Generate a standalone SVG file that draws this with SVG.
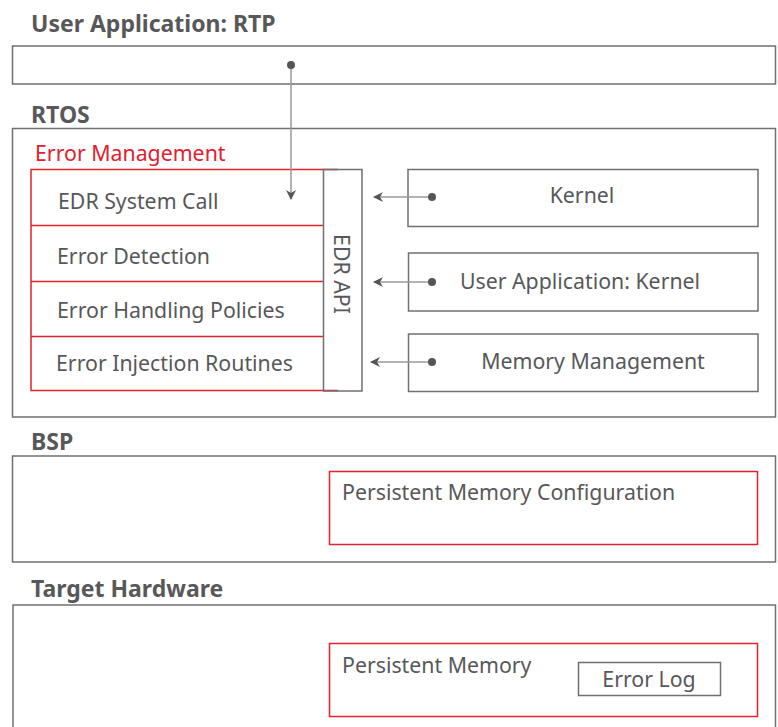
<svg xmlns="http://www.w3.org/2000/svg" width="778" height="727" viewBox="0 0 778 727">
<defs>
<style>
.t{font-family:"Noto Sans","Liberation Sans",sans-serif;fill:#58585a;font-size:21.3px}
.h{font-family:"Noto Sans","Liberation Sans",sans-serif;fill:#58585a;font-size:23px;font-weight:bold}
.box{fill:none;stroke:#707070;stroke-width:1.5}
.red{fill:none;stroke:#e3202e;stroke-width:1.5}
.conn{stroke:#9a9a9a;stroke-width:1.5;fill:none}
.dot{fill:#555}
</style>
<marker id="ah" viewBox="0 0 10 10" refX="9" refY="5" markerWidth="10" markerHeight="10" markerUnits="userSpaceOnUse" orient="auto">
<path d="M0,0 L10,5 L0,10 L3,5 Z" fill="#555"/>
</marker>
</defs>
<rect width="778" height="727" fill="#fff"/>

<g id="rtp">
<text class="h" x="31" y="32">User Application: RTP</text>
<rect class="box" x="12.5" y="46" width="763" height="38"/>
</g>

<g id="rtos">
<text class="h" x="31" y="123">RTOS</text>
<rect class="box" x="12.5" y="128.5" width="763" height="288.5"/>
</g>

<g id="error-management">
<text class="t" x="35" y="161" style="fill:#e3202e">Error Management</text>
<path class="red" d="M338,169.5 H31 V390.5 H338"/>
<line class="red" x1="31" y1="225.5" x2="323" y2="225.5"/>
<line class="red" x1="31" y1="281.5" x2="323" y2="281.5"/>
<line class="red" x1="31" y1="336.5" x2="323" y2="336.5"/>
</g>
<g id="edr-system-call"><text class="t" x="58" y="209">EDR System Call</text></g>
<g id="error-detection"><text class="t" x="57" y="264">Error Detection</text></g>
<g id="error-handling"><text class="t" x="57" y="318">Error Handling Policies</text></g>
<g id="error-injection"><text class="t" x="56" y="371">Error Injection Routines</text></g>

<g id="edr-api">
<rect class="box" x="323.5" y="169.5" width="38.5" height="221.5"/>
<text class="t" x="0" y="0" text-anchor="middle" transform="translate(334 274) rotate(90)">EDR API</text>
</g>

<g id="kernel">
<rect class="box" x="408" y="169.5" width="350" height="57"/>
<text class="t" x="582" y="203" text-anchor="middle">Kernel</text>
</g>
<g id="user-app-kernel">
<rect class="box" x="408.5" y="253" width="349.5" height="58"/>
<text class="t" x="580" y="289" text-anchor="middle">User Application: Kernel</text>
</g>
<g id="memory-management">
<rect class="box" x="408.5" y="334" width="349.5" height="57.5"/>
<text class="t" x="593" y="369" text-anchor="middle">Memory Management</text>
</g>

<g id="bsp">
<text class="h" x="31" y="450">BSP</text>
<rect class="box" x="12.5" y="456" width="763" height="106"/>
</g>
<g id="pm-config">
<rect class="red" x="329.5" y="471.5" width="428" height="73"/>
<text class="t" x="342" y="500">Persistent Memory Configuration</text>
</g>

<g id="target-hardware">
<text class="h" x="31" y="597">Target Hardware</text>
<rect class="box" x="13" y="605" width="762.5" height="140"/>
</g>
<g id="persistent-memory">
<rect class="red" x="329.5" y="643.5" width="428" height="73"/>
<text class="t" x="342" y="673">Persistent Memory</text>
</g>
<g id="error-log">
<rect class="box" x="578.5" y="662.5" width="142" height="33"/>
<text class="t" x="649" y="687" text-anchor="middle">Error Log</text>
</g>

<g id="connectors">
<line class="conn" x1="291" y1="65" x2="291" y2="199" marker-end="url(#ah)"/>
<circle class="dot" cx="291" cy="65" r="4"/>
<line class="conn" x1="432" y1="197" x2="374" y2="197" marker-end="url(#ah)"/>
<circle class="dot" cx="432" cy="197" r="4"/>
<line class="conn" x1="432" y1="282" x2="374" y2="282" marker-end="url(#ah)"/>
<circle class="dot" cx="432" cy="282" r="4"/>
<line class="conn" x1="432" y1="362" x2="371" y2="362" marker-end="url(#ah)"/>
<circle class="dot" cx="432" cy="362" r="4"/>
</g>
</svg>
